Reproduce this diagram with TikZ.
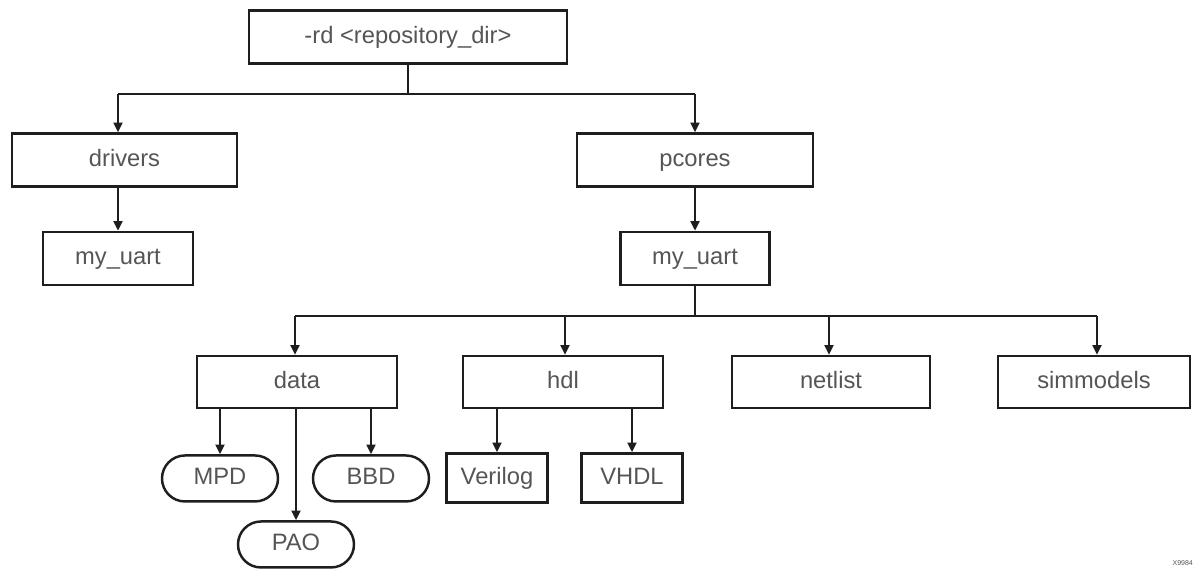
\documentclass[tikz,border=0pt]{standalone}
\usepackage{fontspec}
\setmainfont{Liberation Sans}
\usetikzlibrary{arrows.meta, positioning, calc}
\definecolor{ink}{HTML}{1e1e1e}
\definecolor{label}{HTML}{555555}
\tikzset{
  dirbox/.style = {rectangle, draw=ink, line width=1.4pt, fill=white,
    minimum height=1.06cm, inner sep=2pt, text=label,
    text height=10pt, text depth=3pt,
    font=\fontsize{13.5}{16}\selectfont},
  filebox/.style = {rectangle, rounded corners=0.46cm, draw=ink, line width=1.4pt,
    fill=white, minimum height=0.92cm, minimum width=2.32cm, text=label,
    text height=10pt, text depth=3pt,
    font=\fontsize{13.5}{16}\selectfont},
  link/.style = {line width=1.4pt, draw=ink},
  arr/.style = {-{Triangle[length=5.5pt, width=5pt]}, line width=1.4pt, draw=ink},
}
\begin{document}
\begin{tikzpicture}[node distance=0.86cm]
\useasboundingbox (0,0) rectangle (23.9,-11.36);

% top level
\node[dirbox, minimum width=6.36cm] (root) at (8.16,-0.74) {-rd <repository\_dir>};
\node[dirbox, minimum width=4.5cm] (drivers) at (2.49,-3.2) {drivers};
\node[dirbox, minimum width=4.72cm] (pcores) at (13.9,-3.2) {pcores};
\node[dirbox, minimum width=3cm, below=of drivers, xshift=-0.13cm] (duart) {my\_uart};
\node[dirbox, minimum width=2.98cm, below=of pcores] (puart) {my\_uart};

% pcores/my_uart children
\node[dirbox, minimum width=4cm, minimum height=1.04cm] (data) at (5.94,-7.64) {data};
\node[dirbox, minimum width=4cm, minimum height=1.04cm] (hdl) at (11.26,-7.64) {hdl};
\node[dirbox, minimum width=3.96cm, minimum height=1.04cm] (netlist) at (16.62,-7.64) {netlist};
\node[dirbox, minimum width=3.84cm, minimum height=1.04cm] (simmodels) at (21.88,-7.64) {simmodels};

% leaves
\node[filebox, below=0.9cm of data, xshift=-1.54cm] (mpd) {MPD};
\node[filebox, below=0.9cm of data, xshift=1.48cm] (bbd) {BBD};
\node[filebox, below=2.22cm of data, xshift=-0.02cm] (pao) {PAO};
\node[dirbox, minimum width=2.02cm, minimum height=0.98cm, below=of hdl, xshift=-1.32cm] (verilog) {Verilog};
\node[dirbox, minimum width=2.02cm, minimum height=0.98cm, below=of hdl, xshift=1.38cm] (vhdl) {VHDL};

\node[anchor=south east, inner sep=1pt, text=label, font=\fontsize{4}{5}\selectfont] (tag) at (23.9,-11.36) {X9984};

% buses
\coordinate (bus1) at ($(root.south)+(0,-0.58)$);
\coordinate (bus2) at ($(puart.south)+(0,-0.6)$);

\draw[link] (root.south) -- (bus1);
\draw[link] (bus1 -| duart) -- (bus1 -| pcores);
\draw[arr] (bus1 -| duart) -- (drivers.north -| duart);
\draw[arr] (bus1 -| pcores) -- (pcores.north);
\draw[arr] (drivers.south -| duart) -- (duart);
\draw[arr] (pcores) -- (puart);

\draw[link] (puart.south) -- (bus2);
\draw[link] ([xshift=-0.04cm]bus2 -| data) -- ([xshift=0.06cm]bus2 -| simmodels);
\draw[arr] ([xshift=-0.04cm]bus2 -| data) -- ([xshift=-0.04cm]data.north);
\draw[arr] ([xshift=0.04cm]bus2 -| hdl) -- ([xshift=0.04cm]hdl.north);
\draw[arr] ([xshift=-0.04cm]bus2 -| netlist) -- ([xshift=-0.04cm]netlist.north);
\draw[arr] ([xshift=0.06cm]bus2 -| simmodels) -- ([xshift=0.06cm]simmodels.north);

\draw[arr] (data.south -| mpd) -- (mpd);
\draw[arr] (data.south -| bbd) -- (bbd);
\draw[arr] (data.south -| pao) -- (pao);
\draw[arr] (hdl.south -| verilog) -- (verilog);
\draw[arr] (hdl.south -| vhdl) -- (vhdl);

\end{tikzpicture}
\end{document}
